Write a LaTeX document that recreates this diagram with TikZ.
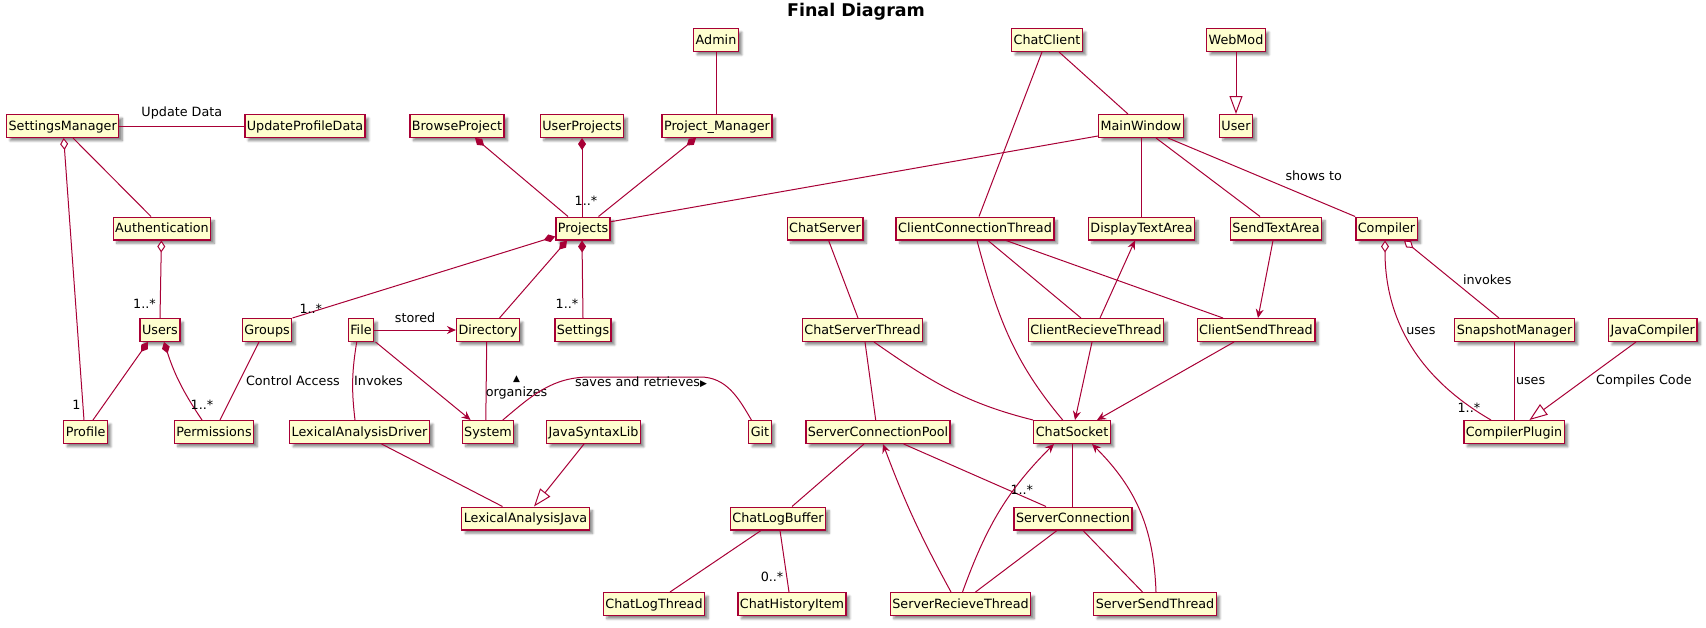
\documentclass[tikz,border=0pt]{standalone}
\usepackage{fontspec}
\setmainfont{DejaVu Sans}
\usetikzlibrary{arrows.meta,shadows.blur}
\definecolor{umlline}{HTML}{A80036}
\definecolor{umlfill}{HTML}{FEFECE}
\newcommand{\umlfont}{\fontsize{12.75}{15}\selectfont}
\newcommand{\titlefont}{\fontsize{17.5}{20}\selectfont\bfseries}
\newcommand{\dirfont}{\fontsize{9}{9}\selectfont}
\tikzset{
  cls/.style={draw=umlline, fill=umlfill, line width=1.4pt, inner xsep=2pt, inner ysep=0pt,
    minimum height=22.6pt, text height=10.3pt, text depth=1.7pt, font=\umlfont,
    blur shadow={shadow xshift=3.5pt, shadow yshift=-3.5pt, shadow blur steps=6, shadow opacity=45}},
  lbl/.style={font=\umlfont, inner sep=1pt},
  link/.style={draw=umlline, line width=1pt},
  comp/.style={{Diamond[length=12pt,width=8pt]}-},
  aggr/.style={{Diamond[length=12pt,width=8pt,fill=white]}-},
  nav/.style={-{Stealth[length=9pt,width=8pt,inset=3pt]}},
  inh/.style={-{Triangle[length=18pt,width=13pt,fill=white]}}
}

\begin{document}
\begin{tikzpicture}[x=1pt, y=-1pt]
  \useasboundingbox (0,0) rectangle (1706,627);
  \node[font=\titlefont, anchor=base] (title) at (856,16) {Final Diagram};

  \node[cls] (Admin) at (716,40) {Admin};
  \node[cls] (ChatClient) at (1047,40) {ChatClient};
  \node[cls] (WebMod) at (1236,40) {WebMod};

  \node[cls] (SettingsManager) at (62.7,126) {SettingsManager};
  \node[cls] (UpdateProfileData) at (305,126) {UpdateProfileData};
  \node[cls] (BrowseProject) at (457,126) {BrowseProject};
  \node[cls] (UserProjects) at (582,126) {UserProjects};
  \node[cls] (ProjectManager) at (717,126) {Project\_Manager};
  \node[cls] (MainWindow) at (1141,126) {MainWindow};
  \node[cls] (User) at (1236,126) {User};

  \node[cls] (Authentication) at (162,228.5) {Authentication};
  \node[cls] (Projects) at (583,228.5) {Projects};
  \node[cls] (ChatServer) at (825,228.5) {ChatServer};
  \node[cls] (ClientConnThread) at (975,228.5) {ClientConnectionThread};
  \node[cls] (DisplayTextArea) at (1141.5,228.5) {DisplayTextArea};
  \node[cls] (SendTextArea) at (1276,228.5) {SendTextArea};
  \node[cls] (Compiler) at (1386.5,228.5) {Compiler};

  \node[cls] (Users) at (160,330) {Users};
  \node[cls] (Groups) at (267,330) {Groups};
  \node[cls] (File) at (361,330) {File};
  \node[cls] (Directory) at (488,330) {Directory};
  \node[cls] (Settings) at (583,330) {Settings};
  \node[cls] (ChatServerThread) at (862.5,330) {ChatServerThread};
  \node[cls] (ClientRecvThread) at (1096,330) {ClientRecieveThread};
  \node[cls] (ClientSendThread) at (1256,330) {ClientSendThread};
  \node[cls] (SnapshotManager) at (1514.5,330) {SnapshotManager};
  \node[cls] (JavaCompiler) at (1652.7,330) {JavaCompiler};

  \node[cls] (Profile) at (85.6,432) {Profile};
  \node[cls] (Permissions) at (214,432) {Permissions};
  \node[cls] (LexDriver) at (359.6,432) {LexicalAnalysisDriver};
  \node[cls] (System) at (488,432) {System};
  \node[cls] (JavaSyntaxLib) at (593.5,432) {JavaSyntaxLib};
  \node[cls] (Git) at (760,432) {Git};
  \node[cls] (ConnPool) at (878,432) {ServerConnectionPool};
  \node[cls] (ChatSocket) at (1072,432) {ChatSocket};
  \node[cls] (CompilerPlugin) at (1514,432) {CompilerPlugin};

  \node[cls] (LexJava) at (525.5,518.5) {LexicalAnalysisJava};
  \node[cls] (ChatLogBuffer) at (778,518.5) {ChatLogBuffer};
  \node[cls] (ServerConnection) at (1073,518.5) {ServerConnection};

  \node[cls] (ChatLogThread) at (654,604) {ChatLogThread};
  \node[cls] (ChatHistoryItem) at (792,604) {ChatHistoryItem};
  \node[cls] (ServerRecvThread) at (960.5,604) {ServerRecieveThread};
  \node[cls] (ServerSendThread) at (1155,604) {ServerSendThread};

  \coordinate (gitL) at (590,377);
  \coordinate (gitR) at (700,377);

  % settings and users
  \draw[link] (SettingsManager) -- node[lbl, above=5pt] {Update Data} (UpdateProfileData);
  \draw[link, aggr] ([xshift=1pt]SettingsManager.south) -- node[lbl, pos=0.947, left=1pt] {1} ([xshift=-1.6pt]Profile.north);
  \draw[link] ([xshift=10.3pt]SettingsManager.south) -- ([xshift=-11pt]Authentication.north);
  \draw[link, aggr] ([xshift=-0.6pt]Authentication.south) -- node[lbl, pos=0.81, left=3pt] {1..*} (Users.north);
  \draw[link, comp] ([xshift=-12pt]Users.south) -- ([xshift=7.4pt]Profile.north);
  \draw[link, comp] ([xshift=4pt]Users.south) to[bend right=8] node[lbl, pos=1, above=9pt] {1..*} ([xshift=-12pt]Permissions.north);
  \draw[link] ([xshift=-8pt]Groups.south) -- node[lbl, midway, right=5pt] {Control Access} ([xshift=6pt]Permissions.north);

  % projects
  \draw[link, comp] ([yshift=4pt]Projects.south west) -- node[lbl, pos=0.93, above=-2.5pt] {1..*} (Groups.north east);
  \draw[link, comp] ([xshift=-16pt]Projects.south) -- ([xshift=11.5pt]Directory.north);
  \draw[link, comp] ([xshift=-1pt]Projects.south) -- node[lbl, pos=0.81, left=3pt] {1..*} (Settings.north);
  \draw[link, comp] ([xshift=18pt]BrowseProject.south) -- ([xshift=-15pt]Projects.north);
  \draw[link, comp] (UserProjects.south) -- node[lbl, pos=0.8, xshift=4pt] {1..*} ([xshift=-1pt]Projects.north);
  \draw[link, comp] ([xshift=-21pt]ProjectManager.south) -- ([xshift=15.5pt]Projects.north);
  \draw[link] (Admin.south) -- (Admin.south |- ProjectManager.north);
  \draw[link] ([yshift=2pt]MainWindow.south west) -- ([yshift=6.8pt]Projects.east);

  % files
  \draw[link, nav] (File) -- node[lbl, above=6pt] {stored} (Directory);
  \draw[link, nav] ([xshift=14.6pt]File.south) -- ([xshift=-17.4pt]System.north);
  \draw[link] ([xshift=-4.3pt]File.south) to[bend right=8] node[lbl, midway, right=0pt] {Invokes} ([xshift=-4.6pt]LexDriver.north);
  \draw[link] ([xshift=-1.3pt]Directory.south) -- node[lbl, midway, right=-2pt, yshift=-6pt, align=center] {{\dirfont ▲}\\organizes} ([xshift=-2.2pt]System.north);
  \draw[link] ([xshift=14.8pt]System.north) to[out=40, in=180] (gitL) -- node[lbl, midway, yshift=-5pt, xshift=-4pt] {saves and retrieves{\dirfont ▶}} (gitR) to[out=0, in=120] ([xshift=-8.6pt]Git.north);
  \draw[link] ([xshift=22pt]LexDriver.south) -- ([xshift=-23pt]LexJava.north);
  \draw[link, inh] ([xshift=-9.5pt]JavaSyntaxLib.south) -- ([xshift=8.5pt]LexJava.north);

  % chat client
  \draw[link] ([xshift=12pt]ChatClient.south) -- ([xshift=-13pt]MainWindow.north);
  \draw[link] ([xshift=-5pt]ChatClient.south) -- ([xshift=4pt]ClientConnThread.north);
  \draw[link] (MainWindow.south) -- (MainWindow.south |- DisplayTextArea.north);
  \draw[link] ([xshift=15pt]MainWindow.south) -- ([xshift=-16pt]SendTextArea.north);
  \draw[link] ([xshift=27pt]MainWindow.south) -- node[lbl, pos=0.62, anchor=south west, yshift=4pt] {shows to} (Compiler.north west);
  \draw[link, inh] (WebMod.south) -- (User.north);
  \draw[link] ([xshift=2pt]ClientConnThread.south) to[out=-75, in=130] ([xshift=-9.3pt]ChatSocket.north);
  \draw[link] ([xshift=13pt]ClientConnThread.south) -- ([xshift=-15pt]ClientRecvThread.north);
  \draw[link] ([xshift=31pt]ClientConnThread.south) -- ([xshift=-33pt]ClientSendThread.north);
  \draw[link, nav] ([xshift=4pt]ClientRecvThread.north) -- ([xshift=-6.5pt]DisplayTextArea.south);
  \draw[link, nav] ([xshift=-3pt]SendTextArea.south) -- ([xshift=2pt]ClientSendThread.north);
  \draw[link, nav] ([xshift=-4pt]ClientRecvThread.south) -- ([xshift=3pt]ChatSocket.north);
  \draw[link, nav] ([xshift=-22pt]ClientSendThread.south) -- ([xshift=25pt]ChatSocket.north);

  % chat server
  \draw[link] ([xshift=3.6pt]ChatServer.south) -- ([xshift=-4.5pt]ChatServerThread.north);
  \draw[link] ([xshift=11.5pt]ChatServerThread.south) to[out=-35, in=166] (ChatSocket.north west);
  \draw[link] ([xshift=2.5pt]ChatServerThread.south) -- ([xshift=-2.3pt]ConnPool.north);
  \draw[link] ([xshift=-14pt]ConnPool.south) -- ([xshift=14pt]ChatLogBuffer.north);
  \draw[link] ([xshift=25.6pt]ConnPool.south) -- node[lbl, pos=0.83, above=0pt] {1..*} ([xshift=-27pt]ServerConnection.north);
  \draw[link, nav] ([xshift=-9.5pt]ServerRecvThread.north) to[bend left=4] ([xshift=5pt]ConnPool.south);
  \draw[link, nav] ([xshift=2pt]ServerRecvThread.north) to[out=70, in=-135] ([xshift=-18pt]ChatSocket.south);
  \draw[link, nav] ([xshift=1pt]ServerSendThread.north) to[out=92, in=-45] ([xshift=20pt]ChatSocket.south);
  \draw[link] (ChatSocket.south) -- (ChatSocket.south |- ServerConnection.north);
  \draw[link] ([xshift=-16pt]ServerConnection.south) -- ([xshift=15pt]ServerRecvThread.north);
  \draw[link] ([xshift=10pt]ServerConnection.south) -- ([xshift=-12.5pt]ServerSendThread.north);
  \draw[link] ([xshift=-17pt]ChatLogBuffer.south) -- ([xshift=16pt]ChatLogThread.north);
  \draw[link] ([xshift=2pt]ChatLogBuffer.south) -- node[lbl, pos=0.76, left=2pt] {0..*} ([xshift=-3pt]ChatHistoryItem.north);

  % compiler
  \draw[link, aggr] ([xshift=-1.5pt]Compiler.south) to[out=-90, in=150] node[lbl, pos=0.42, right=1pt] {uses} node[lbl, pos=0.9, xshift=-2pt] {1..*} ([xshift=-23pt]CompilerPlugin.north);
  \draw[link, aggr] ([xshift=17.5pt]Compiler.south) -- node[lbl, midway, right=10pt] {invokes} ([xshift=-15.5pt]SnapshotManager.north);
  \draw[link] (SnapshotManager.south) -- node[lbl, midway, right=0pt] {uses} (SnapshotManager.south |- CompilerPlugin.north);
  \draw[link, inh] ([xshift=-16.7pt]JavaCompiler.south) -- node[lbl, midway, right=12pt] {Compiles Code} ([xshift=15.4pt]CompilerPlugin.north);
\end{tikzpicture}
\end{document}
